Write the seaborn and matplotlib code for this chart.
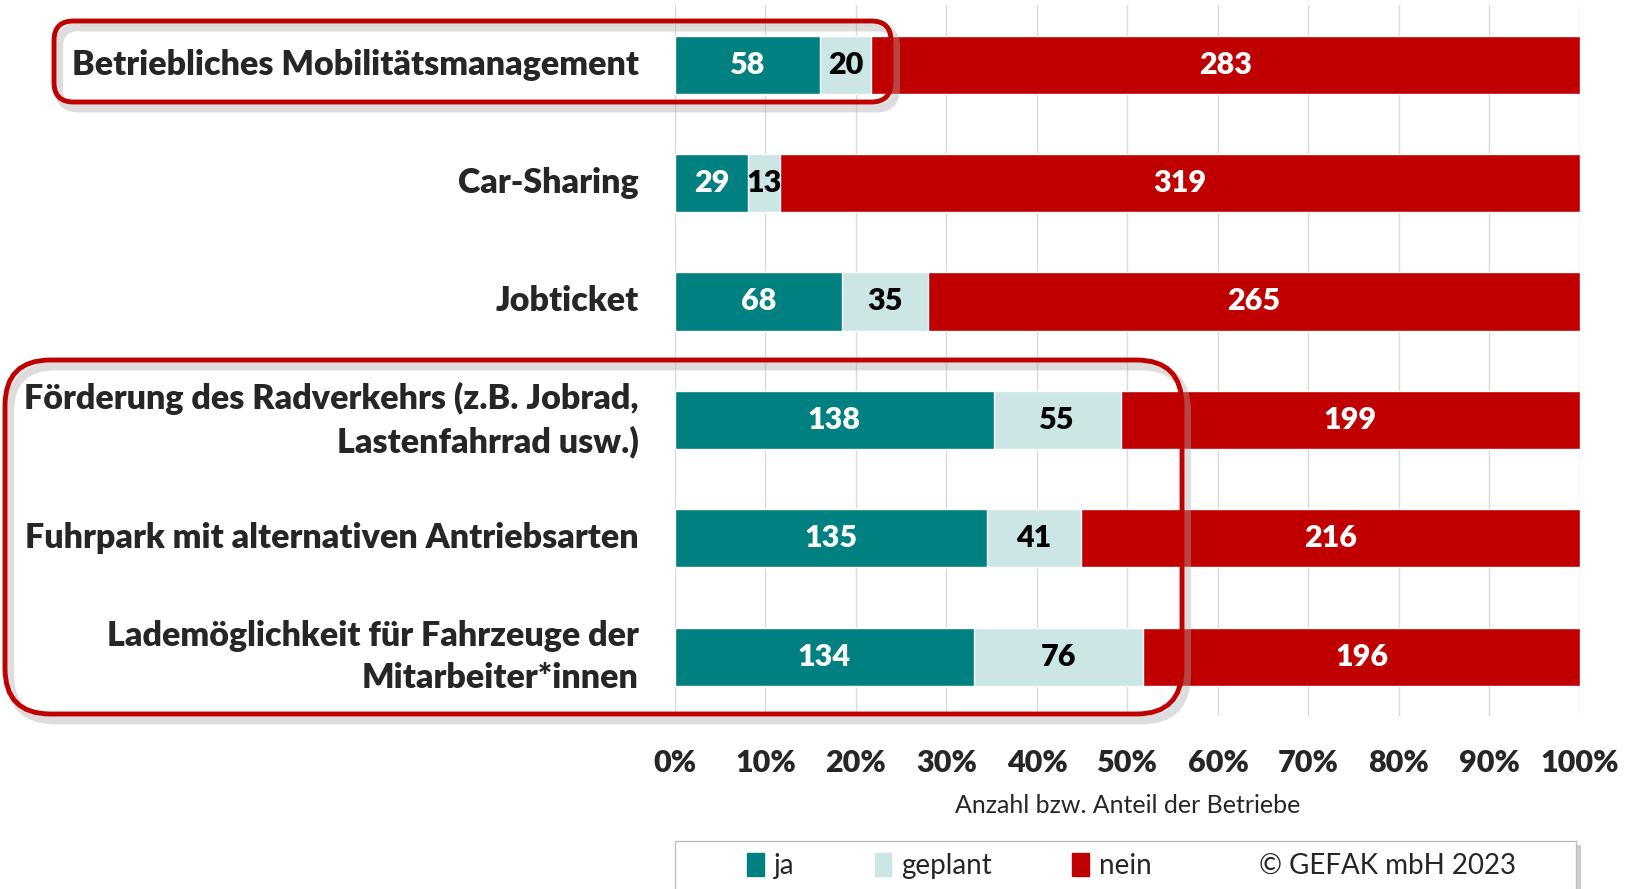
import numpy as np
import pandas as pd
import seaborn as sns
import matplotlib.pyplot as plt
from matplotlib.patches import FancyBboxPatch, Patch, Rectangle

# data
categories = ["Betriebliches Mobilitätsmanagement", "Car-Sharing", "Jobticket",
              "Förderung des Radverkehrs (z.B. Jobrad,\nLastenfahrrad usw.)",
              "Fuhrpark mit alternativen Antriebsarten",
              "Lademöglichkeit für Fahrzeuge der\nMitarbeiter*innen"]
ja = [58, 29, 68, 138, 135, 134]
geplant = [20, 13, 35, 55, 41, 76]
nein = [283, 319, 265, 199, 216, 196]
x_ticks = [0, 10, 20, 30, 40, 50, 60, 70, 80, 90, 100]

col_ja = "#008080"
col_geplant = "#CCE6E6"
col_nein = "#C00000"

df = pd.DataFrame({"Kategorie": categories, "ja": ja, "geplant": geplant, "nein": nein})
df["total"] = df["ja"] + df["geplant"] + df["nein"]
df["p_ja"] = df["ja"] / df["total"] * 100
df["p_geplant"] = df["geplant"] / df["total"] * 100
df["p_nein"] = df["nein"] / df["total"] * 100
df["c1"] = df["p_ja"]
df["c2"] = df["p_ja"] + df["p_geplant"]
df["c3"] = df["c2"] + df["p_nein"]

sns.set_style("white")
plt.rcParams["font.family"] = ["Lato", "DejaVu Sans"]
BOLD = "heavy"

fig = plt.figure(figsize=(16.28, 8.89), dpi=100)
ax = fig.add_axes([0.4146, 0.1945, 0.5559, 0.7995])

# stacked bars: draw cumulative totals back to front
for col, c in [("c3", col_nein), ("c2", col_geplant), ("c1", col_ja)]:
    sns.barplot(data=df, y="Kategorie", x=col, color=c, saturation=1, width=0.49, ax=ax)

for i, row in df.iterrows():
    ax.text(row["c1"] / 2, i, str(row["ja"]), ha="center", va="center",
            color="white", fontsize=22, fontweight=BOLD, zorder=5)
    ax.text(row["c1"] + row["p_geplant"] / 2, i, str(row["geplant"]), ha="center", va="center",
            color="black", fontsize=22, fontweight=BOLD, zorder=5)
    ax.text(row["c2"] + row["p_nein"] / 2, i, str(row["nein"]), ha="center", va="center",
            color="white", fontsize=22, fontweight=BOLD, zorder=5)

ax.set_xlim(0, 100)
ax.set_ylim(5.5, -0.5)
ax.set_xticks(x_ticks)
ax.set_xticklabels([f"{t}%" for t in x_ticks], fontsize=22, fontweight=BOLD)
ax.tick_params(axis="x", pad=24, length=0)
ax.tick_params(axis="y", length=0, pad=26)
for lab in ax.get_yticklabels():
    lab.set_fontsize(24.5)
    lab.set_fontweight(BOLD)
    lab.set_horizontalalignment("right")
    lab.set_verticalalignment("center")
    lab.set_multialignment("right")
    lab.set_linespacing(1.4)
ax.set_ylabel("")
ax.set_xlabel("Anzahl bzw. Anteil der Betriebe", fontsize=18, labelpad=12)
ax.grid(axis="x", color="#D9D9D9", linewidth=1, zorder=0)
ax.set_axisbelow(True)
sns.despine(ax=ax, left=True, bottom=True)

# highlight boxes
for (x0, y0, w, h, r) in [(54, 21, 837, 81, 0.012), (5, 360, 1177, 354, 0.028)]:
    fx, fy = x0 / 1628, 1 - (y0 + h) / 889
    fw, fh = w / 1628, h / 889
    style = f"round,pad=0,rounding_size={r}"
    shadow = FancyBboxPatch((fx + 0.003, fy - 0.007), fw, fh, boxstyle=style,
                            transform=fig.transFigure, fill=False, edgecolor="#AAAAAA",
                            linewidth=6, alpha=0.4, zorder=9, mutation_aspect=1.83)
    box = FancyBboxPatch((fx, fy), fw, fh, boxstyle=style,
                         transform=fig.transFigure, fill=False, edgecolor=col_nein,
                         linewidth=3.5, zorder=10, mutation_aspect=1.83)
    fig.patches.extend([shadow, box])

# legend frame (drawn separately so entries stay centred)
lx0, lx1, ly0 = 675 / 1628, 1576 / 1628, 1 - 841 / 889
fig.patches.append(Rectangle((lx0 + 0.003, -0.05), lx1 - lx0, ly0 + 0.05 - 0.005,
                             transform=fig.transFigure, facecolor="#CCCCCC", edgecolor="none", zorder=0))
fig.patches.append(Rectangle((lx0, -0.05), lx1 - lx0, ly0 + 0.05, transform=fig.transFigure,
                             facecolor="white", edgecolor="#BFBFBF", linewidth=1, zorder=1))

handles = [Patch(color=col_ja, label="ja"), Patch(color=col_geplant, label="geplant"),
           Patch(color=col_nein, label="nein"), Patch(color="none", label="© GEFAK mbH 2023")]
leg = fig.legend(handles=handles, loc="center", ncol=4, bbox_to_anchor=(0.695, 1 - 866 / 889),
                 bbox_transform=fig.transFigure, fontsize=20, frameon=False,
                 handlelength=0.6, handleheight=0.9, handletextpad=0.35, columnspacing=2.9)

fig.savefig("out.png", dpi=100)
